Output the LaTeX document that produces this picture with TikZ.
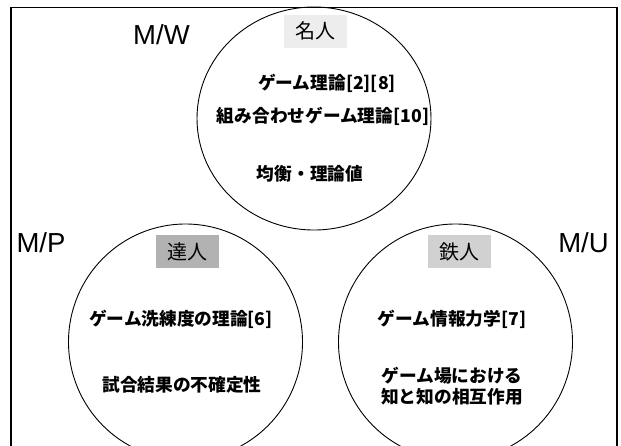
\documentclass[tikz,border=0pt]{standalone}
\usepackage{fontspec}
\setmainfont{Liberation Sans}
\newfontfamily\jp{Noto Sans CJK JP}
\usetikzlibrary{shapes.geometric}
\tikzset{
  circ/.style={ellipse, draw, line width=0.9pt, minimum width=234pt, inner sep=0pt},
  mlabel/.style={font=\fontsize{27.5}{27.5}\selectfont, inner sep=0pt, anchor=center},
  tag/.style={font=\jp\fontsize{20}{20}\selectfont, inner sep=0pt, minimum width=63pt, minimum height=33pt},
  item/.style={font=\jp\bfseries\fontsize{17.7}{21}\selectfont, inner sep=0pt, align=center, anchor=center},
}
\begin{document}
\begin{tikzpicture}[x=1pt,y=-1pt]
\useasboundingbox (0,0) rectangle (621,445);
\clip (0,0) rectangle (621,445);
\draw[line width=1.4pt] (11,470) -- (11,7.5) -- (617,7.5) -- (617,470);
% circles
\node[circ, minimum height=223pt] (cw) at (314,118.5) {};
\node[circ, minimum height=236pt] (cp) at (185.5,342) {};
\node[circ, minimum height=236pt] (cu) at (455.5,342) {};
% corner labels
\node[mlabel] (lw) at (161.5,35) {M/W};
\node[mlabel] (lp) at (41,243) {M/P};
\node[mlabel] (lu) at (583.5,243) {M/U};
% tags
\node[tag, fill=black!7] (tw) at (315,31) {名人};
\node[tag, fill=black!30] (tp) at (187.5,251.5) {達人};
\node[tag, fill=black!18] (tu) at (459.5,251.5) {鉄人};
% items
\node[item] (w1) at (327,83) {ゲーム理論[2][8]};
\node[item] (w2) at (323,116) {組み合わせゲーム理論[10]};
\node[item] (w3) at (310,174) {均衡・理論値};
\node[item] (p1) at (181,319) {ゲーム洗練度の理論[6]};
\node[item] (p2) at (182,385) {試合結果の不確定性};
\node[item] (u1) at (452,319) {ゲーム情報力学[7]};
\node[item] (u2) at (452,386) {ゲーム場における\\知と知の相互作用};
\end{tikzpicture}
\end{document}
